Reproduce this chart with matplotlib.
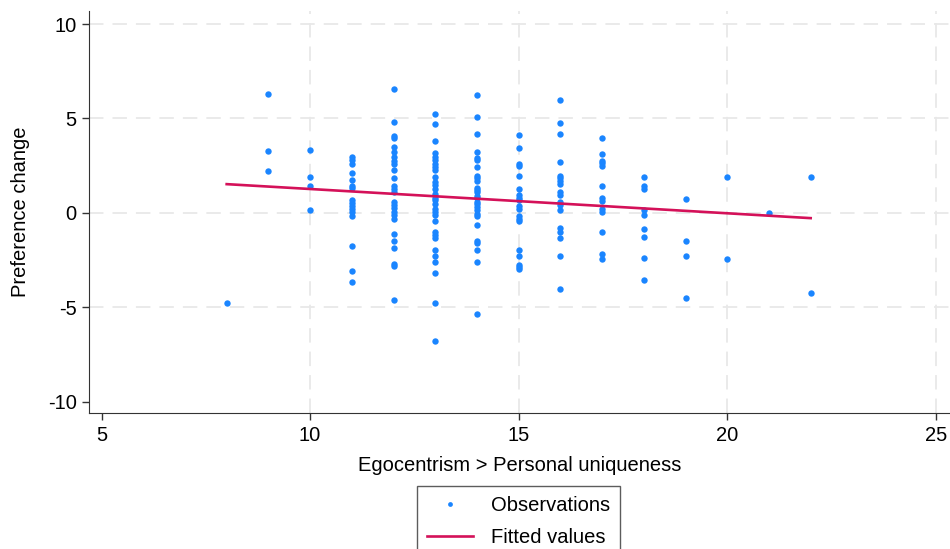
import matplotlib.pyplot as plt

plt.rcParams['font.family'] = ['Liberation Sans', 'DejaVu Sans']
plt.rcParams['axes.unicode_minus'] = False

# Observations, grouped by egocentrism score
ego_8 = [-4.75]
ego_9 = [6.27, 3.25, 2.21]
ego_10 = [3.32, 1.91, 1.40, 0.14]
ego_11 = [2.97, 2.79, 2.61, 2.12, 1.75, 1.40, 1.31, 0.67, 0.53, 0.37, 0.19, 0.02, -0.16,
          -1.78, -3.09, -3.64]
ego_12 = [6.57, 4.81, 4.06, 3.96, 3.50, 3.22, 2.97, 2.76, 2.58, 2.26, 1.87, 1.41, 1.25, 1.11,
          0.60, 0.42, 0.25, 0.07, -0.12, -0.32, -1.11, -1.48, -1.87, -2.72, -2.84, -4.59]
ego_13 = [5.23, 4.70, 3.82, 3.18, 2.97, 2.79, 2.61, 2.44, 2.26, 1.91, 1.63, 1.45, 1.24, 1.02,
          0.81, 0.67, 0.46, 0.21, 0.04, -0.14, -0.42, -0.99, -1.17, -1.34, -1.98, -2.30,
          -2.60, -3.16, -4.75, -6.78]
ego_14 = [6.25, 5.07, 4.20, 3.20, 2.90, 2.79, 2.42, 1.96, 1.82, 1.70, 1.34, 1.20, 1.08, 0.90,
          0.78, 0.60, 0.46, 0.32, 0.14, -0.04, -0.18, -0.64, -1.48, -1.61, -1.96, -2.60, -5.37]
ego_15 = [4.12, 3.43, 2.61, 2.46, 1.93, 1.25, 0.94, 0.81, 0.69, 0.37, 0.23, -0.16, -0.30,
          -0.42, -1.98, -2.31, -2.76, -2.86, -2.95]
ego_16 = [5.97, 4.77, 4.20, 2.69, 1.96, 1.82, 1.70, 1.55, 1.08, 0.94, 0.55, 0.42, 0.14,
          -0.78, -1.04, -1.31, -2.30, -4.01]
ego_17 = [3.99, 3.13, 2.76, 2.63, 2.49, 1.41, 0.76, 0.64, 0.19, 0.05, -1.04, -2.19, -2.42]
ego_18 = [1.91, 1.40, 1.24, 0.14, -0.14, -0.87, -1.27, -2.37, -3.57]
ego_19 = [0.74, -1.50, -2.30, -4.52]
ego_20 = [1.91, -2.47]
ego_21 = [0.0]
ego_22 = [1.91, -4.24]

groups = {8: ego_8, 9: ego_9, 10: ego_10, 11: ego_11, 12: ego_12, 13: ego_13, 14: ego_14,
          15: ego_15, 16: ego_16, 17: ego_17, 18: ego_18, 19: ego_19, 20: ego_20,
          21: ego_21, 22: ego_22}

# fitted line, read at both ends
fit_x = [8, 22]
fit_y = [1.52, -0.28]

obs_x = []
obs_y = []
for score, vals in groups.items():
    obs_x += [score] * len(vals)
    obs_y += vals

fig = plt.figure(figsize=(9.5, 5.49), dpi=100)
ax = fig.add_axes([0.0937, 0.2477, 0.9063, 0.7323])

for g in [-5, 0, 5, 10]:
    ax.axhline(g, color='#e8e8e8', lw=1.3, ls=(0, (8, 5)), zorder=0)
for g in [10, 15, 20, 25]:
    ax.axvline(g, color='#e8e8e8', lw=1.3, ls=(0, (8, 5)), zorder=0)

ax.plot(obs_x, obs_y, 'o', color='#1a85ff', markersize=4.6, markeredgewidth=0,
        label='Observations', zorder=3)
ax.plot(fit_x, fit_y, color='#d41159', lw=1.9, label='Fitted values', zorder=4)

ax.set_xlim(4.70, 25.34)
ax.set_ylim(-10.6, 10.69)
ax.set_xticks([5, 10, 15, 20, 25])
ax.set_yticks([-10, -5, 0, 5, 10])
ax.tick_params(labelsize=14.5, length=5, width=1, color='#333333', pad=4)
ax.spines['top'].set_visible(False)
ax.spines['right'].set_visible(False)
ax.spines['left'].set_color('#333333')
ax.spines['bottom'].set_color('#333333')
ax.set_xlabel('Egocentrism > Personal uniqueness', fontsize=14.5, labelpad=8)
ax.set_ylabel('Preference change', fontsize=14.5, labelpad=13)

leg = fig.legend(loc='upper center', bbox_to_anchor=(0.5458, 0.1148), fontsize=14.5,
                 frameon=True, fancybox=False, edgecolor='#333333', borderpad=0.5,
                 handlelength=2.3, labelspacing=0.65, markerscale=0.75,
                 handletextpad=0.9, borderaxespad=0)
leg.get_frame().set_linewidth(1.0)

plt.savefig('out.png', dpi=100)
